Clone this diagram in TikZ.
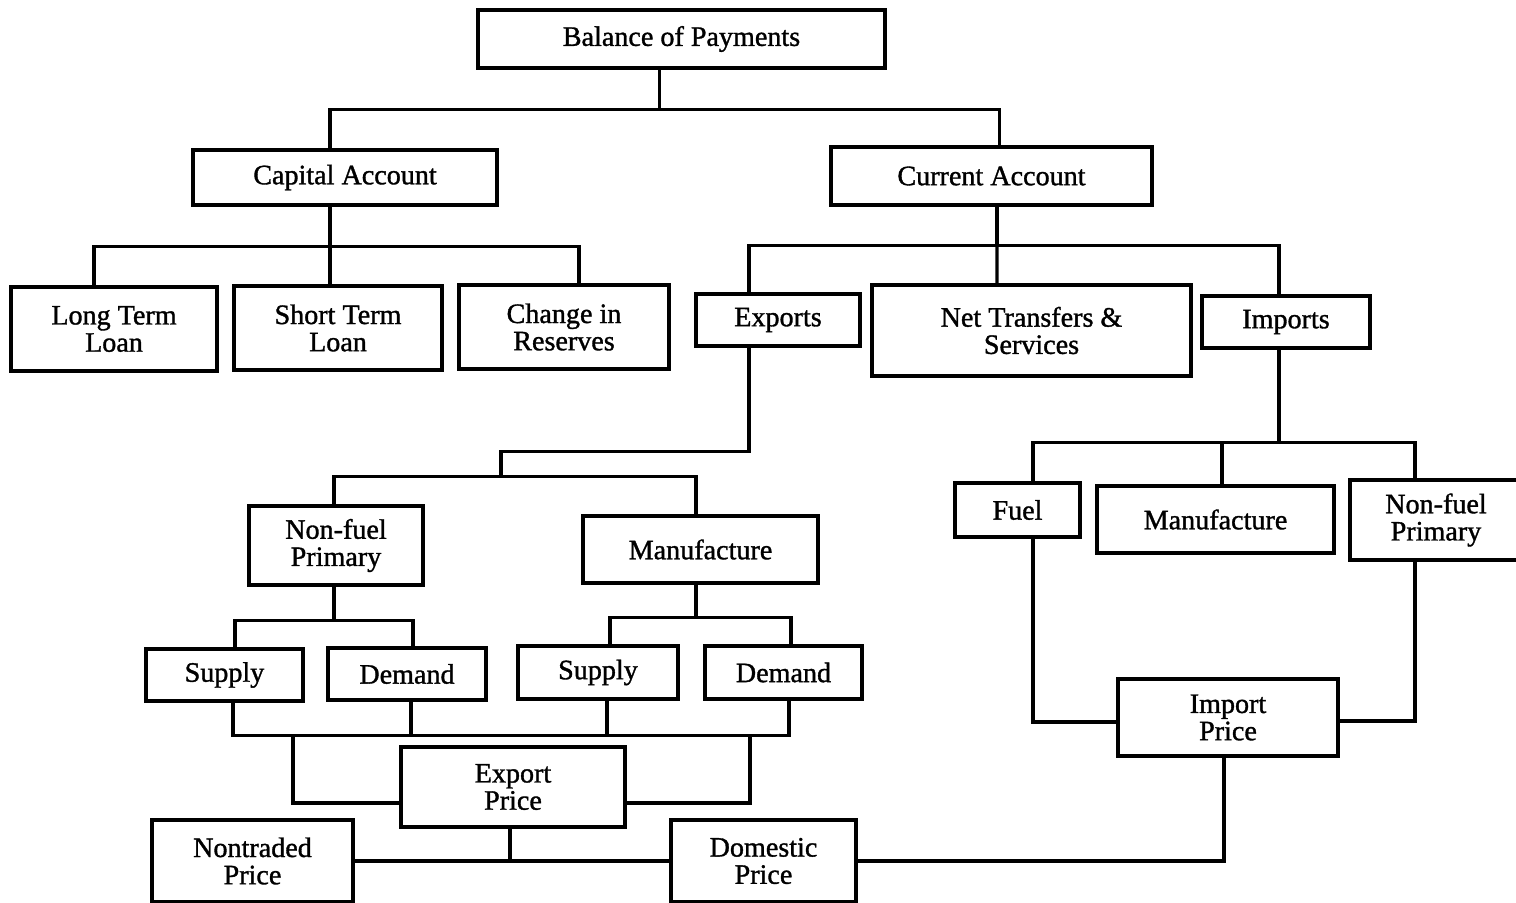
\documentclass[tikz,border=0pt]{standalone}
\usepackage{fontspec}
\setmainfont{Liberation Serif}[FakeBold=1.2]
\newfontfamily\boxfont{Liberation Serif}[FakeBold=1.2]
\usetikzlibrary{calc}
\tikzset{
    box/.style 2 args = {
        align=center,
        inner sep=0pt,
        text centered,
        font=\boxfont\fontsize{16}{15.5}\selectfont,
        rectangle,
        draw=black,
        line width=1.9pt,
        minimum width=#1,
        minimum height=#2
    },
    link/.style = {
        draw=black,
        line width=1.9pt,
        line join=miter
    }
}
\begin{document}
\begin{tikzpicture}[x=0.02cm, y=-0.02cm]
            \useasboundingbox (0,0) rectangle (1516,903);
            \node [box={8.14cm}{1.16cm}] (bop) at (681.5,39) {Balance of Payments};
            \node [box={6.08cm}{1.10cm}] (cap) at (345,177.5) {Capital Account};
            \node [box={6.42cm}{1.16cm}] (cur) at (991.5,176) {Current Account};
            \node [box={4.12cm}{1.68cm}] (ltl) at (114,329) {Long Term\\Loan};
            \node [box={4.16cm}{1.68cm}] (stl) at (338,328) {Short Term\\Loan};
            \node [box={4.20cm}{1.68cm}] (res) at (564,327) {Change in\\Reserves};
            \node [box={3.28cm}{1.04cm}] (exp) at (778,320) {Exports};
            \node [box={6.38cm}{1.82cm}] (nts) at (1031.5,330.5) {Net Transfers \&\\Services};
            \node [box={3.36cm}{1.04cm}] (imp) at (1286,322) {Imports};
            \node [box={3.48cm}{1.58cm}] (xnp) at (336,545.5) {Non-fuel\\Primary};
            \node [box={4.70cm}{1.34cm}] (xman) at (700.5,549.5) {Manufacture};
            \node [box={3.14cm}{1.04cm}] (s1) at (224.5,675) {Supply};
            \node [box={3.16cm}{1.04cm}] (d1) at (407,674) {Demand};
            \node [box={3.20cm}{1.06cm}] (s2) at (598,672.5) {Supply};
            \node [box={3.14cm}{1.06cm}] (d2) at (783.5,672.5) {Demand};
            \node [box={4.48cm}{1.60cm}] (xpr) at (513,787) {Export\\Price};
            \node [box={4.02cm}{1.64cm}] (ntr) at (252.5,861) {Nontraded\\Price};
            \node [box={3.70cm}{1.64cm}] (dom) at (763.5,861) {Domestic\\Price};
            \node [box={2.50cm}{1.08cm}] (fuel) at (1017.5,510) {Fuel};
            \node [box={4.74cm}{1.34cm}] (iman) at (1215.5,519.5) {Manufacture};
            \node [box={3.44cm}{1.60cm}] (inp) at (1436,520) {Non-fuel\\Primary};
            \node [box={4.40cm}{1.54cm}] (ipr) at (1228,717.5) {Import\\Price};

            \draw [link] ($(bop.south)+(-22,0)$) -- ++(0,40) coordinate (b1);
            \draw [link] ($(cap.north)+(-15,0)$) |- (b1) -| ($(cur.north)+(8,0)$);

            \draw [link] ($(cap.south)+(-15,0)$) -- ++(0,40) coordinate (b2);
            \draw [link] ($(ltl.north)+(-20,0)$) |- (b2) -| ($(res.north)+(15,0)$);
            \draw [link] (b2) -- ($(stl.north)+(-8,0)$);

            \draw [link] ($(cur.south)+(5.5,0)$) -- ++(0,39) coordinate (b3);
            \draw [link] ($(exp.north)+(-29,0)$) |- (b3) -| ($(imp.north)+(-7,0)$);
            \draw [link] (b3) -- ($(nts.north)+(-34.5,0)$);

            \draw [link] ($(exp.south)+(-29,0)$) -- ++(0,104) -| ++(-248,25) coordinate (b4);
            \draw [link] ($(xnp.north)+(-2,0)$) |- (b4) -| ($(xman.north)+(-4.5,0)$);

            \draw [link] ($(xnp.south)+(-2,0)$) -- ++(0,34) coordinate (b5);
            \draw [link] ($(s1.north)+(10.5,0)$) |- (b5) -| ($(d1.north)+(6,0)$);
            \draw [link] ($(xman.south)+(-4.5,0)$) -- ++(0,33) coordinate (b6);
            \draw [link] ($(s2.north)+(12,0)$) |- (b6) -| ($(d2.north)+(7.5,0)$);

            \draw [link] ($(s1.south)+(8.5,0)$) |- ($(d2.south)+(5.5,35)$) -- ($(d2.south)+(5.5,0)$);
            \draw [link] ($(d1.south)+(4,0)$) -- ++(0,34);
            \draw [link] ($(s2.south)+(9,0)$) -- ++(0,35);
            \coordinate (sd1) at (293,734);
            \coordinate (sd2) at (750,734);
            \draw [link] (sd1) |- ($(xpr.west)+(0,16)$);
            \draw [link] (sd2) |- ($(xpr.east)+(0,16)$);

            \draw [link] (ntr.east) -- (dom.west);
            \draw [link] ($(xpr.south)+(-3,0)$) -- ++(0,34);
            \draw [link] (dom.east) -| ($(ipr.south)+(-4,0)$);

            \draw [link] ($(imp.south)+(-7,0)$) -- ++(0,93) coordinate (b7);
            \draw [link] ($(fuel.north)+(15.5,0)$) |- (b7) -| ($(inp.north)+(-21,0)$);
            \draw [link] ($(iman.north)+(6.5,0)$) |- (b7);

            \draw [link] ($(fuel.south)+(15.5,0)$) |- ($(ipr.west)+(0,4.5)$);
            \draw [link] ($(inp.south)+(-21,0)$) |- ($(ipr.east)+(0,3.5)$);
        \end{tikzpicture}
\end{document}
